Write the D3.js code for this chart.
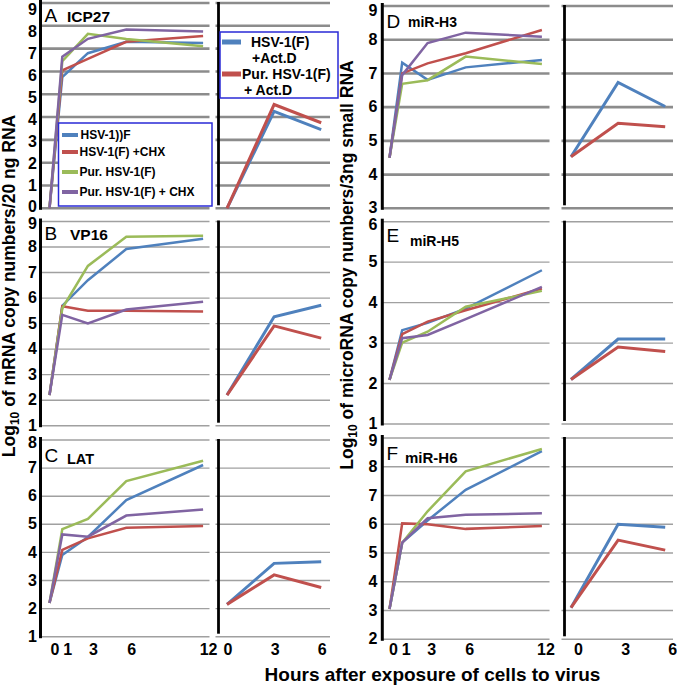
<!DOCTYPE html>
<html><head><meta charset="utf-8">
<script src="https://cdn.jsdelivr.net/npm/d3@7"></script>
<style>
html,body{margin:0;padding:0;background:#fff;}
svg{display:block;font-family:"Liberation Sans",Arial,sans-serif;}
</style></head><body>
<svg id="chart" width="677" height="688"></svg>
<script>
// ---------------- DATA ----------------
const hoursMain = [0, 1, 3, 6, 12];
const hoursActD = [0, 3, 6];
const seriesLabels = ["HSV-1))F", "HSV-1(F) +CHX", "Pur. HSV-1(F)", "Pur. HSV-1(F) + CHX"];
const actDLabels = [["HSV-1(F)", "+Act.D"], ["Pur. HSV-1(F)", "+ Act.D"]];
const panelLetters = ["A", "B", "C", "D", "E", "F"];
const geneNames = ["ICP27", "VP16", "LAT", "miR-H3", "miR-H5", "miR-H6"];

const ticksA = [0, 1, 2, 3, 4, 5, 6, 7, 8, 9];
const ticksB = [1, 2, 3, 4, 5, 6, 7, 8, 9];
const ticksC = [1, 2, 3, 4, 5, 6, 7, 8];
const ticksD = [3, 4, 5, 6, 7, 8, 9];
const ticksE = [1, 2, 3, 4, 5, 6];
const ticksF = [2, 3, 4, 5, 6, 7, 8, 9];
const xTicksMain = [0, 1, 3, 6, 12];
const xTicksActD = [0, 3, 6];

// A  ICP27
const icp27HSV    = [0, 5.75, 6.8, 7.3, 7.25];
const icp27CHX    = [0, 6.05, 6.55, 7.3, 7.55];
const icp27Pur    = [0, 6.45, 7.65, 7.42, 7.1];
const icp27PurCHX = [0, 6.65, 7.43, 7.84, 7.75];
const icp27ActD    = [0, 4.25, 3.45];
const icp27PurActD = [0, 4.55, 3.75];
// B  VP16
const vp16HSV    = [2.2, 5.7, 6.7, 7.92, 8.32];
const vp16CHX    = [2.2, 5.68, 5.5, 5.5, 5.47];
const vp16Pur    = [2.2, 5.6, 7.26, 8.4, 8.44];
const vp16PurCHX = [2.2, 5.34, 5.01, 5.55, 5.86];
const vp16ActD    = [2.2, 5.27, 5.72];
const vp16PurActD = [2.2, 4.91, 4.43];
// C  LAT
const latHSV    = [2.2, 3.91, 4.55, 5.86, 7.11];
const latCHX    = [2.2, 4.09, 4.5, 4.88, 4.94];
const latPur    = [2.2, 4.83, 5.19, 6.54, 7.26];
const latPurCHX = [2.2, 4.64, 4.56, 5.31, 5.53];
const latActD    = [2.15, 3.61, 3.67];
const latPurActD = [2.15, 3.2, 2.75];
// D  miR-H3
const h3HSV    = [4.5, 7.32, 6.81, 7.18, 7.4];
const h3CHX    = [4.5, 7.0, 7.3, 7.6, 8.29];
const h3Pur    = [4.5, 6.69, 6.8, 7.5, 7.28];
const h3PurCHX = [4.5, 6.95, 7.9, 8.21, 8.09];
const h3ActD    = [4.53, 6.73, 6.02];
const h3PurActD = [4.53, 5.52, 5.42];
// E  miR-H5
const h5HSV    = [2.09, 3.32, 3.5, 3.85, 4.8];
const h5CHX    = [2.09, 3.22, 3.53, 3.81, 4.35];
const h5Pur    = [2.09, 3.01, 3.28, 3.9, 4.29];
const h5PurCHX = [2.09, 3.12, 3.2, 3.59, 4.39];
const h5ActD    = [2.1, 3.1, 3.1];
const h5PurActD = [2.1, 2.9, 2.79];
// F  miR-H6
const h6HSV    = [3.05, 5.36, 6.13, 7.2, 8.54];
const h6CHX    = [3.05, 6.03, 6.0, 5.84, 5.94];
const h6Pur    = [3.05, 5.36, 6.45, 7.84, 8.62];
const h6PurCHX = [3.05, 5.36, 6.21, 6.33, 6.38];
const h6ActD    = [3.1, 6.0, 5.9];
const h6PurActD = [3.1, 5.45, 5.1];

// ---------------- STYLE / LAYOUT ----------------
const colors = ["#4f81bd", "#c0504d", "#9bbb59", "#8064a2"];
const actDColors = ["#4f81bd", "#c0504d"];
const FONT = '"Liberation Sans", Arial, sans-serif';

const cols = [
  {axisX: 40.5, mainRange: [49.5, 203.1], gridMain: [40.5, 209.5], subAxisX: 218.5, subRange: [227, 321.2], gridSub: [215.5, 330], tickPad: 3.5, xShiftMain: 5, xShiftSub: 0.5, letterX: 44.5},
  {axisX: 382.3, mainRange: [389.5, 541.9], gridMain: [382.3, 549.5], subAxisX: 564.5, subRange: [571, 665.2], gridSub: [561.5, 673], tickPad: 5, xShiftMain: 3.5, xShiftSub: 7, letterX: 386.5}
];

const panels = [
  {col: 0, yr: [208.3, 3], dom: [0, 9], ticks: ticksA, main: [icp27HSV, icp27CHX, icp27Pur, icp27PurCHX], actD: [icp27ActD, icp27PurActD], gw: 2.6, gc: "#8c8c8c", labelTop: 9.5, topShift: 0, bottomShift: -1, letterY: 22, geneX: 67, geneY: 22, geneSize: 15.5},
  {col: 0, yr: [425.7, 221.5], dom: [1, 9], ticks: ticksB, main: [vp16HSV, vp16CHX, vp16Pur, vp16PurCHX], actD: [vp16ActD, vp16PurActD], gw: 1.4, gc: "#a0a0a0", topShift: 2.5, letterY: 240, geneX: 70, geneY: 239.5, geneSize: 15.5},
  {col: 0, yr: [636.7, 440], dom: [1, 8], ticks: ticksC, main: [latHSV, latCHX, latPur, latPurCHX], actD: [latActD, latPurActD], gw: 1.4, gc: "#a0a0a0", topShift: 2.5, letterY: 461.5, geneX: 67, geneY: 463.5, geneSize: 14.5, xAxis: true},
  {col: 1, yr: [208.3, 6], dom: [3, 9], ticks: ticksD, main: [h3HSV, h3CHX, h3Pur, h3PurCHX], actD: [h3ActD, h3PurActD], gw: 2.6, gc: "#8c8c8c", topShift: 5, letterY: 28, geneX: 408, geneY: 27, geneSize: 14},
  {col: 1, yr: [424, 221.7], dom: [1, 6], ticks: ticksE, main: [h5HSV, h5CHX, h5Pur, h5PurCHX], actD: [h5ActD, h5PurActD], gw: 1.4, gc: "#a0a0a0", topShift: 3, letterY: 242, geneX: 410, geneY: 246, geneSize: 14},
  {col: 1, yr: [639.3, 438], dom: [2, 9], ticks: ticksF, main: [h6HSV, h6CHX, h6Pur, h6PurCHX], actD: [h6ActD, h6PurActD], gw: 1.4, gc: "#a0a0a0", topShift: 3, letterY: 460, geneX: 405, geneY: 463, geneSize: 15, xAxis: true}
];

const svg = d3.select("#chart");
const gGrid = svg.append("g");
const gAxes = svg.append("g");
const gLines = svg.append("g");
const gTop = svg.append("g");

panels.forEach((p, i) => {
  const c = cols[p.col];
  const y = d3.scaleLinear().domain(p.dom).range(p.yr);
  const xMain = d3.scaleLinear().domain([0, 12]).range(c.mainRange);
  const xSub = d3.scaleLinear().domain([0, 6]).range(c.subRange);

  // gridlines
  gGrid.selectAll(null).data(p.ticks).enter().append("line")
    .attr("x1", c.gridMain[0]).attr("x2", c.gridMain[1])
    .attr("y1", d => y(d)).attr("y2", d => y(d))
    .attr("stroke", p.gc).attr("stroke-width", p.gw);
  gGrid.selectAll(null).data(p.ticks).enter().append("line")
    .attr("x1", c.gridSub[0]).attr("x2", c.gridSub[1])
    .attr("y1", d => y(d)).attr("y2", d => y(d))
    .attr("stroke", p.gc).attr("stroke-width", p.gw);

  // vertical axis lines
  const yTop = y(p.dom[1]), yBot = y(p.dom[0]);
  gAxes.append("line").attr("x1", c.axisX).attr("x2", c.axisX)
    .attr("y1", Math.max(0, yTop - 3)).attr("y2", yBot + 1.5)
    .attr("stroke", "#000").attr("stroke-width", 3);
  gAxes.append("line").attr("x1", c.subAxisX).attr("x2", c.subAxisX)
    .attr("y1", Math.max(2, yTop - 1)).attr("y2", yBot - 3)
    .attr("stroke", "#000").attr("stroke-width", 2.8);

  // y tick labels
  const yLab = y.copy();
  if (p.labelTop !== undefined) yLab.range([p.yr[0], p.labelTop]);
  const ya = gTop.append("g").attr("transform", `translate(${c.axisX - c.tickPad},0)`)
    .call(d3.axisLeft(yLab).tickValues(p.ticks).tickSize(0).tickPadding(0).tickFormat(d3.format("d")));
  ya.select(".domain").remove();
  ya.selectAll("text").attr("font-family", FONT).attr("font-size", 16).attr("font-weight", "bold").attr("fill", "#000");
  const topVal = p.dom[1], botVal = p.dom[0];
  ya.selectAll(".tick").attr("transform", d => {
    let off = 0;
    if (d === topVal) off = p.topShift || 0;
    if (d === botVal) off = p.bottomShift || 0;
    return `translate(0,${yLab(d) + off})`;
  });

  // data lines
  const lineMain = d3.line().x((d, k) => xMain(hoursMain[k])).y(d => y(d));
  p.main.forEach((s, k) => {
    gLines.append("path").attr("d", lineMain(s)).attr("fill", "none")
      .attr("stroke", colors[k]).attr("stroke-width", 2.5).attr("stroke-linejoin", "miter");
  });
  const lineSub = d3.line().x((d, k) => xSub(hoursActD[k])).y(d => y(d));
  p.actD.forEach((s, k) => {
    gLines.append("path").attr("d", lineSub(s)).attr("fill", "none")
      .attr("stroke", actDColors[k]).attr("stroke-width", 3).attr("stroke-linejoin", "miter");
  });

  // panel letter + gene name
  gTop.append("text").attr("x", c.letterX).attr("y", p.letterY)
    .attr("font-family", FONT).attr("font-size", 19).attr("fill", "#000").text(panelLetters[i]);
  gTop.append("text").attr("x", p.geneX).attr("y", p.geneY)
    .attr("font-family", FONT).attr("font-size", p.geneSize).attr("font-weight", "bold").attr("fill", "#000").text(geneNames[i]);

  // x axes (bottom row)
  if (p.xAxis) {
    const xmLab = xMain.copy().range(c.mainRange.map(v => v + c.xShiftMain));
    const xsLab = xSub.copy().range(c.subRange.map(v => v + c.xShiftSub));
    [[xmLab, xTicksMain], [xsLab, xTicksActD]].forEach(([sc, tv]) => {
      const xa = gTop.append("g").attr("transform", "translate(0,644)")
        .call(d3.axisBottom(sc).tickValues(tv).tickSize(0).tickPadding(0).tickFormat(d3.format("d")));
      xa.select(".domain").remove();
      xa.selectAll("text").attr("font-family", FONT).attr("font-size", 16).attr("font-weight", "bold").attr("fill", "#000");
    });
  }
});

// Legend (A, main)
const lg = gTop.append("g");
lg.append("rect").attr("x", 58.5).attr("y", 123).attr("width", 153.5).attr("height", 83)
  .attr("fill", "#fff").attr("stroke", "#2a2ad6").attr("stroke-width", 1.5);
const legRows = [135, 152, 172, 192];
seriesLabels.forEach((t, k) => {
  lg.append("line").attr("x1", 62).attr("x2", 78).attr("y1", legRows[k]).attr("y2", legRows[k])
    .attr("stroke", colors[k]).attr("stroke-width", 4);
  lg.append("text").attr("x", k === 0 ? 80.5 : 79.5).attr("y", legRows[k] + 4.3)
    .attr("font-family", FONT).attr("font-size", 12).attr("font-weight", "bold").attr("fill", "#000").text(t);
});

// Legend (A, Act.D)
const lg2 = gTop.append("g");
lg2.append("rect").attr("x", 220).attr("y", 32).attr("width", 118).attr("height", 66)
  .attr("fill", "#fff").attr("stroke", "#2a2ad6").attr("stroke-width", 1.5);
const leg2Rows = [42, 74];
const leg2TextX = [[251, 252], [242, 244]];
actDLabels.forEach((lines, k) => {
  lg2.append("line").attr("x1", 222).attr("x2", 241).attr("y1", leg2Rows[k]).attr("y2", leg2Rows[k])
    .attr("stroke", actDColors[k]).attr("stroke-width", 5);
  lines.forEach((t, j) => {
    lg2.append("text").attr("x", leg2TextX[k][j]).attr("y", leg2Rows[k] + 5 + j * 15.5)
      .attr("font-family", FONT).attr("font-size", 14).attr("font-weight", "bold").attr("fill", "#000").text(t);
  });
});

// Axis titles
function yTitle(x, yc, after) {
  const t = gTop.append("text").attr("transform", `translate(${x},${yc}) rotate(-90)`)
    .attr("text-anchor", "middle").attr("font-family", FONT).attr("font-size", 17.5)
    .attr("font-weight", "bold").attr("fill", "#000");
  t.append("tspan").text("Log");
  t.append("tspan").attr("font-size", 12).attr("dy", 4).text("10");
  t.append("tspan").attr("dy", -4).text(after);
}
yTitle(15, 286, " of mRNA copy numbers/20 ng RNA");
yTitle(353, 265, " of microRNA copy numbers/3ng small RNA");

gTop.append("text").attr("x", 432.5).attr("y", 681).attr("text-anchor", "middle")
  .attr("font-family", FONT).attr("font-size", 19).attr("font-weight", "bold").attr("fill", "#000")
  .text("Hours after exposure of cells to virus");
</script>
</body></html>
